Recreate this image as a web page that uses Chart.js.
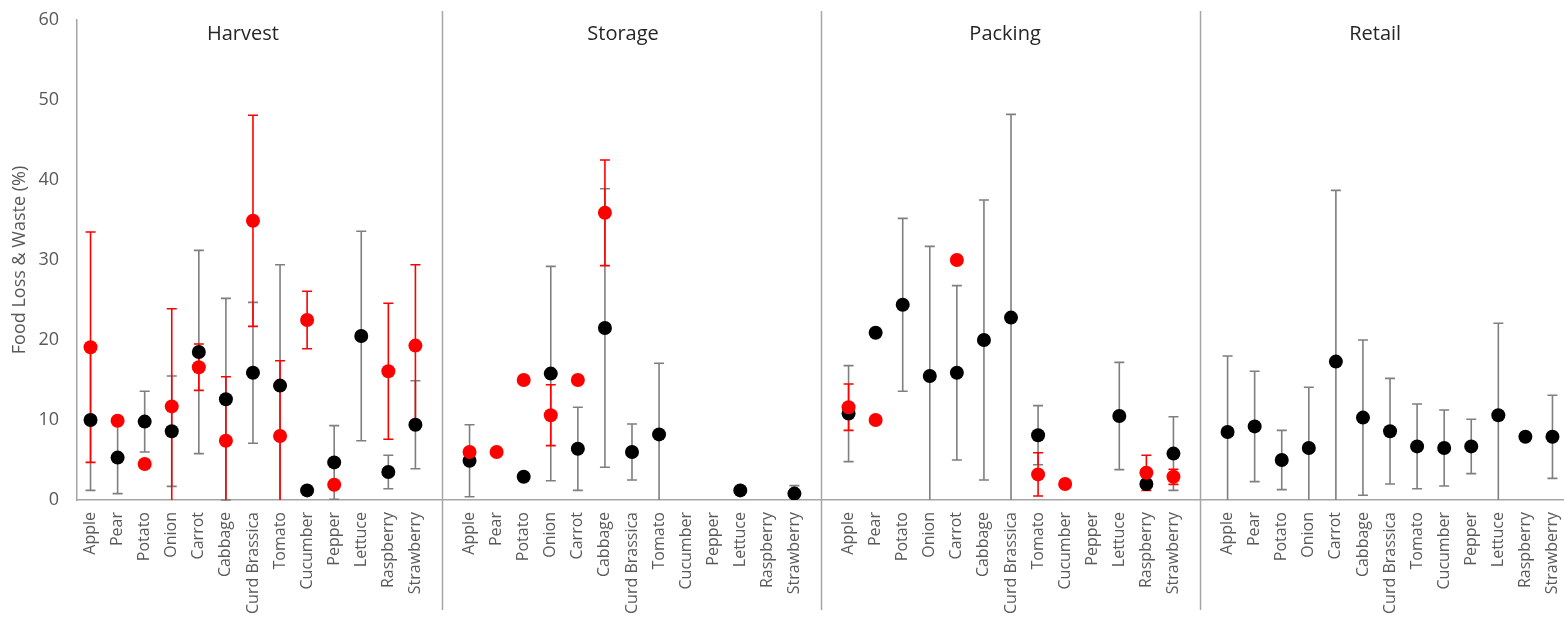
<!DOCTYPE html>
<html>
<head>
<meta charset="utf-8">
<script src="https://cdn.jsdelivr.net/npm/chart.js@4.4.1/dist/chart.umd.min.js"></script>
<style>
  html, body { margin: 0; padding: 0; background: #fff; overflow: hidden; }
</style>
</head>
<body>
<!-- a little wider than the window: the reference axis runs just past the right edge -->
<canvas id="lossChart" width="1573" height="617"></canvas>
<script>
const crops = ["Apple", "Pear", "Potato", "Onion", "Carrot", "Cabbage", "Curd Brassica",
  "Tomato", "Cucumber", "Pepper", "Lettuce", "Raspberry", "Strawberry"];
const stages = ["Harvest", "Storage", "Packing", "Retail"];

// black series (mean and +/- error), one array per stage, crop order as above
const harvestBlack = [10.0, 5.3, 9.8, 8.6, 18.5, 12.6, 15.9, 14.3, 1.2, 4.7, 20.5, 3.5, 9.4];
const harvestBlackErr = [8.8, 4.5, 3.8, 6.9, 12.7, 12.6, 8.8, 15.1, null, 4.6, 13.1, 2.1, 5.5];
const storageBlack = [4.9, null, 2.9, 15.8, 6.4, 21.5, 6.0, 8.2, null, null, 1.2, null, 0.8];
const storageBlackErr = [4.5, null, null, 13.4, 5.2, 17.4, 3.5, 8.9, null, null, null, null, 1.0];
const packingBlack = [10.8, 20.9, 24.4, 15.5, 15.9, 20.0, 22.8, 8.1, null, null, 10.5, 2.0, 5.8];
const packingBlackErr = [6.0, null, 10.8, 16.2, 10.9, 17.5, 25.4, 3.7, null, null, 6.7, null, 4.6];
const retailBlack = [8.5, 9.2, 5.0, 6.5, 17.3, 10.3, 8.6, 6.7, 6.5, 6.7, 10.6, 7.9, 7.9];
const retailBlackErr = [9.5, 6.9, 3.7, 7.6, 21.4, 9.7, 6.6, 5.3, 4.75, 3.4, 11.5, null, 5.2];

// red series
const harvestRed = [19.1, 9.9, 4.5, 11.7, 16.6, 7.4, 34.9, 8.0, 22.5, 1.9, null, 16.1, 19.3];
const harvestRedErr = [14.4, null, 0.5, 12.2, 2.9, 8.0, 13.2, 9.4, 3.6, null, null, 8.5, 10.1];
const storageRed = [6.0, 6.0, 15.0, 10.6, 15.0, 35.9, null, null, null, null, null, null, null];
const storageRedErr = [null, null, null, 3.8, null, 6.6, null, null, null, null, null, null, null];
const packingRed = [11.6, 10.0, null, null, 30.0, null, null, 3.2, 2.0, null, null, 3.4, 2.9];
const packingRedErr = [2.9, null, null, null, null, null, null, 2.7, null, null, null, 2.2, 0.95];
const retailRed = Array(13).fill(null);
const retailRedErr = Array(13).fill(null);

const yTicks = [0, 10, 20, 30, 40, 50, 60];

// where the stage headings sit, in category slots
const titleSlots = [5.63, 19.67, 33.78, 47.45];

// 13 crops per stage, with one empty slot between stages
const labels = [];
const gapSlots = [];
stages.forEach((s, i) => {
  if (i > 0) { gapSlots.push(labels.length); labels.push(""); }
  crops.forEach(c => labels.push(c));
});

function joinStages(parts) {
  let out = [];
  parts.forEach((p, i) => {
    if (i > 0) out.push(null);
    out = out.concat(p);
  });
  return out;
}

const blackData = joinStages([harvestBlack, storageBlack, packingBlack, retailBlack]);
const blackErr = joinStages([harvestBlackErr, storageBlackErr, packingBlackErr, retailBlackErr]);
const redData = joinStages([harvestRed, storageRed, packingRed, retailRed]);
const redErr = joinStages([harvestRedErr, storageRedErr, packingRedErr, retailRedErr]);

Chart.defaults.font.family = "'Open Sans', sans-serif";

// error bars, drawn under all the markers
const errorBars = {
  id: "errorBars",
  beforeDatasetsDraw(chart) {
    const ctx = chart.ctx;
    const y = chart.scales.y;
    const order = [1, 0]; // black bars first, then red
    order.forEach(di => {
      const ds = chart.data.datasets[di];
      const meta = chart.getDatasetMeta(di);
      ctx.save();
      ctx.strokeStyle = ds.errColor;
      ctx.lineWidth = 1.6;
      ds.data.forEach((v, i) => {
        const e = ds.err[i];
        if (v == null || e == null) return;
        const x = meta.data[i].x;
        const lo = Math.max(v - e, 0);
        const hi = v + e;
        const yLo = y.getPixelForValue(lo);
        const yHi = y.getPixelForValue(hi);
        ctx.beginPath();
        ctx.moveTo(x, yLo);
        ctx.lineTo(x, yHi);
        ctx.moveTo(x - 5, yHi);
        ctx.lineTo(x + 5, yHi);
        if (v - e >= 0) {
          ctx.moveTo(x - 5, yLo);
          ctx.lineTo(x + 5, yLo);
        }
        ctx.stroke();
      });
      ctx.restore();
    });
  }
};

// stage separators and headings
const stagePanels = {
  id: "stagePanels",
  afterDraw(chart) {
    const ctx = chart.ctx;
    const x = chart.scales.x;
    const slotW = x.width / labels.length;
    ctx.save();
    ctx.strokeStyle = "#a6a6a6";
    ctx.lineWidth = 1.5;
    gapSlots.forEach(i => {
      const px = x.getPixelForValue(i);
      ctx.beginPath();
      ctx.moveTo(px, 11);
      ctx.lineTo(px, 610);
      ctx.stroke();
    });
    ctx.fillStyle = "#262626";
    ctx.font = "20px 'Open Sans', sans-serif";
    ctx.textAlign = "center";
    ctx.textBaseline = "middle";
    stages.forEach((s, i) => {
      ctx.fillText(s, x.left + (titleSlots[i] + 0.5) * slotW, 34);
    });
    ctx.restore();
  }
};

new Chart(document.getElementById("lossChart"), {
  type: "line",
  data: {
    labels: labels,
    datasets: [
      {
        label: "Red",
        data: redData,
        err: redErr,
        errColor: "#ff0000",
        showLine: false,
        pointRadius: 7,
        pointHoverRadius: 7,
        pointBackgroundColor: "#ff0000",
        pointBorderColor: "#ff0000",
        pointBorderWidth: 0,
        order: 1
      },
      {
        label: "Black",
        data: blackData,
        err: blackErr,
        errColor: "#7f7f7f",
        showLine: false,
        pointRadius: 7,
        pointHoverRadius: 7,
        pointBackgroundColor: "#000000",
        pointBorderColor: "#000000",
        pointBorderWidth: 0,
        order: 2
      }
    ]
  },
  options: {
    responsive: false,
    animation: false,
    devicePixelRatio: 1,
    layout: { padding: { top: 20, right: 0, bottom: 0, left: 0 } },
    plugins: {
      legend: { display: false },
      tooltip: { enabled: false }
    },
    scales: {
      x: {
        type: "category",
        offset: true,
        grid: { display: false, drawTicks: false },
        border: { display: true, color: "#a6a6a6", width: 1.5 },
        ticks: {
          autoSkip: false,
          maxRotation: 90,
          minRotation: 90,
          padding: 12,
          color: "#595959",
          font: { size: 16 }
        },
        afterFit(scale) {
          scale.height = 117;
          scale.paddingLeft = 0;
          scale.paddingRight = 0;
        }
      },
      y: {
        min: 0,
        max: 60,
        afterBuildTicks(scale) { scale.ticks = yTicks.map(v => ({ value: v })); },
        grid: { display: false, drawTicks: false },
        border: { display: true, color: "#a6a6a6", width: 1.5 },
        ticks: {
          padding: 18,
          color: "#595959",
          font: { size: 18 }
        },
        title: {
          display: true,
          text: "Food Loss & Waste (%)",
          color: "#595959",
          font: { size: 18 },
          padding: { top: 9, bottom: 0 }
        },
        afterFit(scale) {
          scale.width = 77;
          scale.paddingTop = 0;
          scale.paddingBottom = 0;
        }
      }
    }
  },
  plugins: [errorBars, stagePanels]
});
</script>
</body>
</html>
